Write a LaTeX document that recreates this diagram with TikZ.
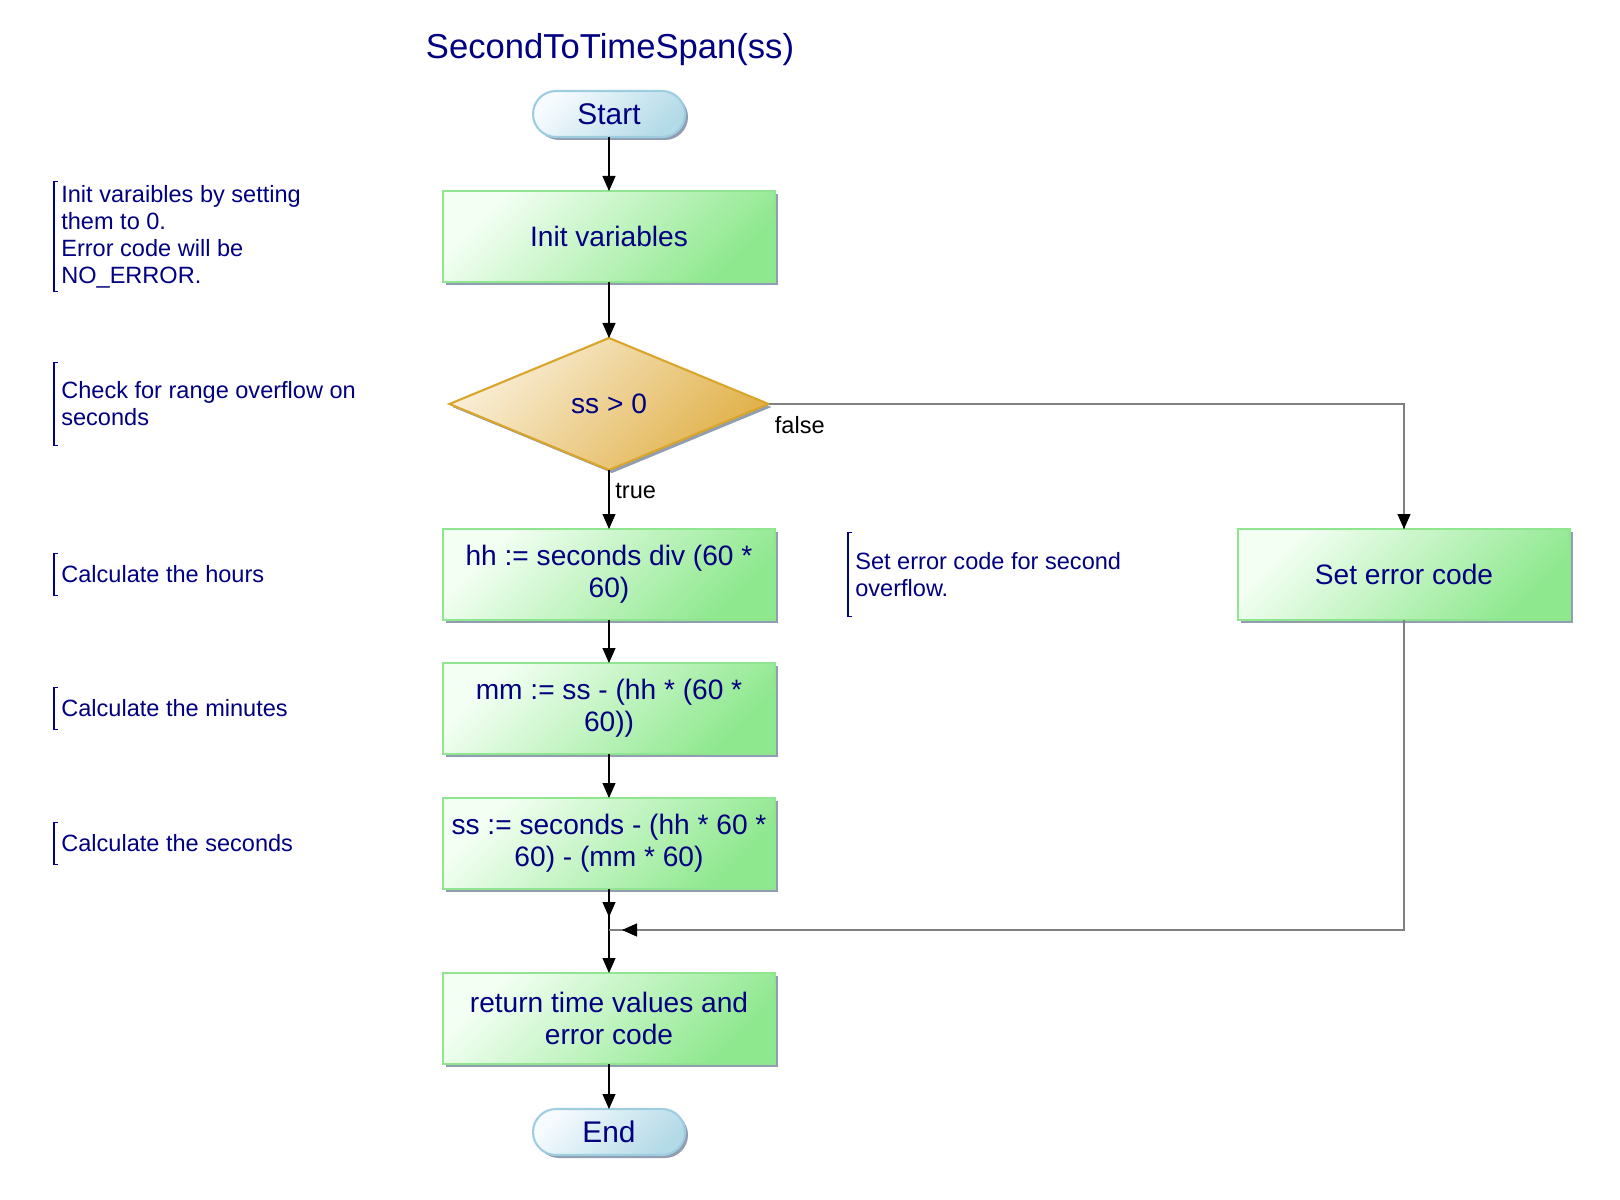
\documentclass[tikz,border=0pt]{standalone}
\usepackage{fontspec}
\setmainfont{Liberation Sans}
\usepackage{xcolor}
\usetikzlibrary{arrows.meta, positioning, shapes.geometric, shadows, decorations.markings}
\definecolor{cText}{HTML}{000080}
\definecolor{cBoxLine}{HTML}{8FE68F}
\definecolor{cBoxLite}{HTML}{F4FFF4}
\definecolor{cBoxDark}{HTML}{8EE88E}
\definecolor{cTermLine}{HTML}{9ECDE0}
\definecolor{cTermLite}{HTML}{F6FBFE}
\definecolor{cTermDark}{HTML}{B3DAE7}
\definecolor{cDecLine}{HTML}{D9A52A}
\definecolor{cDecLite}{HTML}{F9EFD8}
\definecolor{cDecDark}{HTML}{E1B14A}
\definecolor{cShade}{HTML}{8593AA}
\definecolor{cGrey}{HTML}{808080}
\newcommand{\flowfont}{\fontsize{16}{18.1}\selectfont}
\newcommand{\termfont}{\fontsize{17}{19}\selectfont}
\newcommand{\cmtfont}{\fontsize{13.4}{15.4}\selectfont}
\newcommand{\ttlfont}{\fontsize{19.7}{22}\selectfont}
\tikzset{
  procbox/.style={rectangle, draw=cBoxLine, line width=1.2pt, top color=cBoxLite, bottom color=cBoxDark,
    shading angle=45, drop shadow={shadow xshift=0.06cm, shadow yshift=-0.06cm, fill=cShade, opacity=0.9},
    minimum width=6.64cm, minimum height=1.82cm, align=center, text=cText, font=\flowfont, inner sep=2pt, outer sep=0pt},
  term/.style={rectangle, rounded corners=0.46cm, draw=cTermLine, line width=1.2pt, top color=cTermLite,
    bottom color=cTermDark, shading angle=45, drop shadow={shadow xshift=0.06cm, shadow yshift=-0.06cm, fill=cShade, opacity=0.9},
    minimum width=3.04cm, minimum height=0.92cm, text=cText, font=\termfont, inner sep=0pt, outer sep=0pt},
  decide/.style={diamond, draw=cDecLine, line width=1.2pt, top color=cDecLite, bottom color=cDecDark,
    shading angle=45, drop shadow={shadow xshift=0.06cm, shadow yshift=-0.06cm, fill=cShade, opacity=0.9},
    minimum width=6.38cm, minimum height=2.64cm, text=cText, font=\flowfont, inner sep=0pt, outer sep=0pt},
  note/.style={anchor=west, align=left, text=cText, font=\cmtfont, inner xsep=0.14cm, inner ysep=0pt},
  notebr/.style={draw=cText, line width=0.6pt},
  flow/.style={-{Triangle[length=0.3cm, width=0.26cm]}, line width=0.6pt, draw=black},
  link/.style={line width=0.6pt, draw=#1},
  link/.default=black,
  tipat/.style={postaction={decorate}, decoration={markings,
    mark=at position #1 with {\arrow{Triangle[length=0.3cm, width=0.26cm, black]}}}},
  lbl/.style={font=\cmtfont, text=black},
}

\begin{document}
\begin{tikzpicture}
\useasboundingbox (0,0) rectangle (32.4,-24);
% title and main column
\node[text=cText, font=\ttlfont] (ttl) at (12.2,-1.0) {SecondToTimeSpan(ss)};
\node[term] (start) at (12.18,-2.28) {Start};
\node[procbox, below=1.08cm of start] (init) {Init variables};
\node[decide, below=1.12cm of init] (dec) {ss > 0};
\node[procbox, below=1.18cm of dec] (hh) {hh := seconds div (60 *\\ 60)};
\node[procbox, below=0.86cm of hh] (mm) {mm := ss - (hh * (60 *\\ 60))};
\node[procbox, below=0.88cm of mm] (ss) {ss := seconds - (hh * 60 *\\ 60) - (mm * 60)};
\coordinate[below=0.82cm of ss] (jn);
\node[procbox, below=1.68cm of ss] (ret) {return time values and\\ error code};
\node[term, below=0.9cm of ret] (stop) {End};
% error branch
\node[procbox, right=9.26cm of hh] (seterr) {Set error code};
% comments
\coordinate (ncol) at (1.08,0);
\node[note, minimum height=2.18cm] (c1) at (ncol |- init) {Init varaibles by setting\\ them to 0.\\ Error code will be\\ NO\_ERROR.};
\node[note, minimum height=1.66cm] (c2) at (ncol |- dec) {Check for range overflow on\\ seconds};
\node[note, minimum height=0.82cm] (c3) at (ncol |- hh) {Calculate the hours};
\node[note, minimum height=0.82cm] (c4) at (ncol |- mm) {Calculate the minutes};
\node[note, minimum height=0.84cm] (c5) at (ncol |- ss) {Calculate the seconds};
\node[note, minimum height=1.68cm] (c6) at (16.96,0 |- seterr) {Set error code for second\\ overflow.};
\foreach \n in {c1,c2,c3,c4,c5,c6}
  \draw[notebr] ([xshift=0.08cm]\n.north west) -| (\n.south west) -- ++(0.08cm,0);
% connectors
\draw[flow] (start) -- (init);
\draw[flow] (init) -- (dec);
\draw[flow] (dec.south) -- (hh.north) node[pos=0.36, right, lbl] {true};
\draw[link=cGrey, tipat=1] (dec.east) -| (seterr.north) node[pos=0, below right, lbl, yshift=-0.12cm] {false};
\draw[flow] (hh) -- (mm);
\draw[flow] (mm) -- (ss);
\draw[flow, tipat=0.56cm] (ss.south) -- (ret.north);
\draw[link=cGrey, tipat=-0.26cm] (seterr.south) |- (jn);
\draw[flow] (ret) -- (stop);
\end{tikzpicture}
\end{document}
